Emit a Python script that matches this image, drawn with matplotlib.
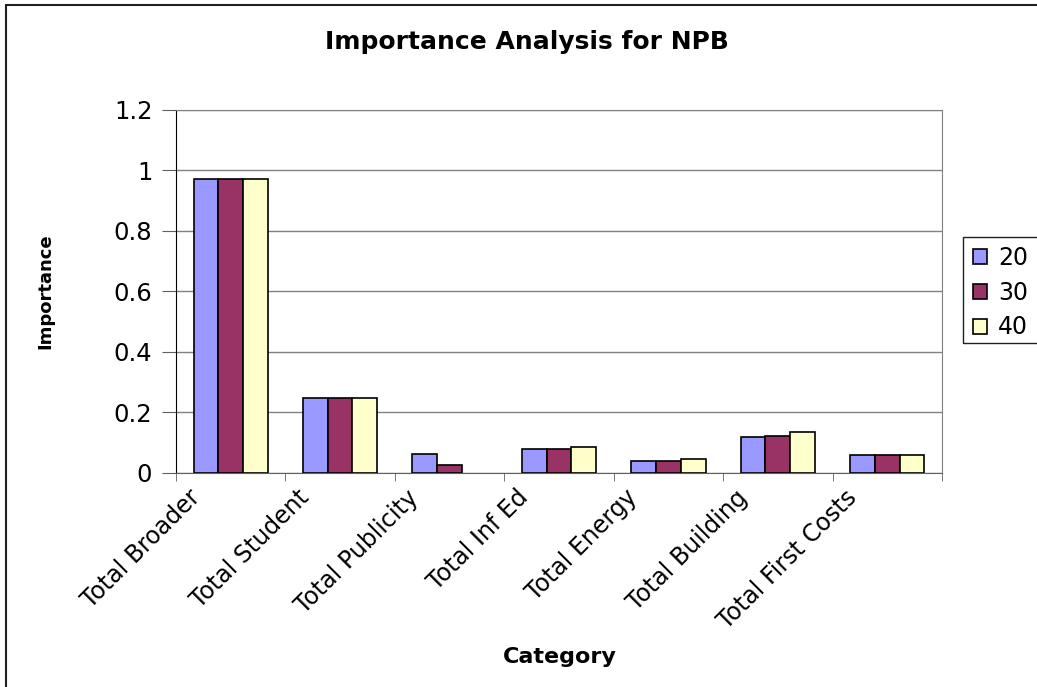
import matplotlib
matplotlib.use('Agg')
import matplotlib.pyplot as plt
import matplotlib.transforms as mtransforms
import numpy as np
from matplotlib.patches import Rectangle

plt.rcParams['font.family'] = ['DejaVu Sans']

categories = ['Total Broader', 'Total Student', 'Total Publicity', 'Total Inf Ed',
              'Total Energy', 'Total Building', 'Total First Costs']
series_names = ['20', '30', '40']
vals_20 = [0.973, 0.247, 0.064, 0.079, 0.040, 0.118, 0.060]
vals_30 = [0.973, 0.247, 0.025, 0.079, 0.040, 0.123, 0.060]
vals_40 = [0.973, 0.247, 0.0, 0.085, 0.045, 0.134, 0.060]
colors = ['#9999FF', '#993366', '#FFFFCC']

fig = plt.figure(figsize=(10.37, 6.87), dpi=100)
# outer chart border (runs off the right and bottom edge like the original)
fig.patches.append(Rectangle((6 / 1037, -0.05), 1.1, 0.05 + 1 - 5 / 687, transform=fig.transFigure,
                             fill=False, edgecolor='#202020', linewidth=1.5))
# legend frame, also cut off at the right edge
fig.patches.append(Rectangle((963 / 1037, 1 - 343 / 687), 0.2, 106 / 687, transform=fig.transFigure,
                             fill=False, edgecolor='#202020', linewidth=1.0))

ax = fig.add_axes([0.1697, 0.3115, 0.7387, 0.5284])
x = np.arange(len(categories))
w = 0.226
for i, (vals, name) in enumerate(zip([vals_20, vals_30, vals_40], series_names)):
    v = np.array(vals)
    keep = v > 0
    ax.bar(x[keep] + (i - 1) * w, v[keep], width=w, color=colors[i], edgecolor='black',
           linewidth=1.2, label=name, zorder=3)

ax.set_xlim(-0.5, len(categories) - 0.5)
ax.set_ylim(0, 1.2)
ax.set_yticks(np.arange(0, 1.21, 0.2))
ax.set_yticklabels(['0', '0.2', '0.4', '0.6', '0.8', '1', '1.2'], fontsize=17.5)
ax.yaxis.grid(True, color='#808080', linewidth=1.0, zorder=0)
ax.set_xticks(x)
ax.set_xticklabels(categories, rotation=45, ha='right', va='top', rotation_mode='anchor', fontsize=17)
ax.tick_params(axis='x', length=0, pad=4)
shift = mtransforms.ScaledTranslation(-0.43, -0.07, fig.dpi_scale_trans)
for lab in ax.get_xticklabels():
    lab.set_transform(lab.get_transform() + shift)
ax.set_xticks(np.arange(-0.5, len(categories)), minor=True)
ax.tick_params(axis='x', which='minor', length=6, direction='out', color='#606060')
ax.tick_params(axis='y', length=10, direction='out', color='#606060', pad=7)

for s in ['top', 'right']:
    ax.spines[s].set_color('#808080')
ax.spines['left'].set_color('black')
ax.spines['bottom'].set_color('#606060')

fig.text(45 / 1037, 1 - 291 / 687, 'Importance', rotation=90, ha='center', va='center',
         fontsize=13, fontweight='bold')
fig.text(560 / 1037, 1 - 663 / 687, 'Category', ha='center', va='baseline',
         fontsize=16, fontweight='bold')
fig.text(527 / 1037, 1 - 49 / 687, 'Importance Analysis for NPB', ha='center', va='baseline',
         fontsize=18, fontweight='bold')

leg = ax.legend(loc='upper left', bbox_to_anchor=(966 / 1037, 1 - 239 / 687),
                bbox_transform=fig.transFigure, fontsize=17, frameon=False,
                handlelength=0.6, handleheight=0.6,
                handletextpad=0.45, borderpad=0.3, labelspacing=0.45, borderaxespad=0)

fig.savefig('out.png', dpi=100)
